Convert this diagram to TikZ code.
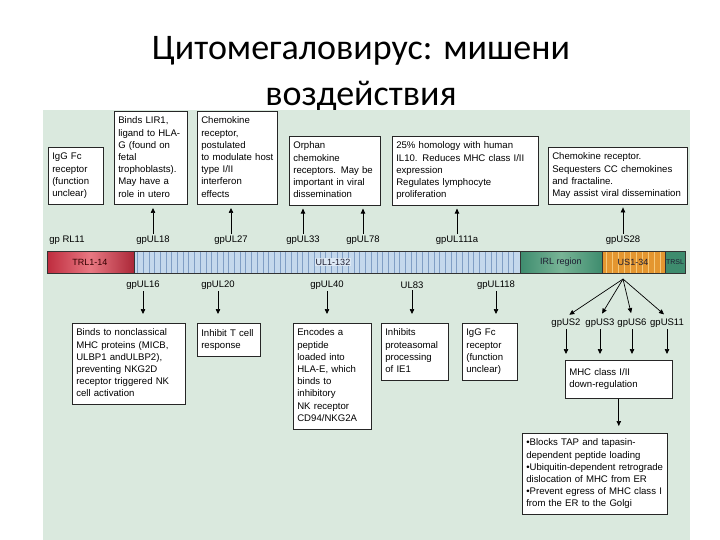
\documentclass[tikz,border=0pt]{standalone}
\usepackage{fontspec}
\setmainfont{Liberation Sans}
\newfontfamily\titlefont{Carlito}
\usetikzlibrary{arrows.meta}
\definecolor{panel}{RGB}{218,233,222}
\definecolor{ulblue}{RGB}{196,216,236}
\definecolor{ulstripe}{RGB}{128,158,196}
\definecolor{trlred}{RGB}{190,44,62}
\definecolor{trlpink}{RGB}{232,120,130}
\definecolor{irlgreen}{RGB}{62,140,110}
\definecolor{irllight}{RGB}{120,180,150}
\definecolor{usorange}{RGB}{228,150,48}
\definecolor{uslight}{RGB}{246,200,120}
\definecolor{bartext}{RGB}{30,30,50}
\newcommand{\boxlines}[1]{\begin{tabular}{@{}l@{}}#1\end{tabular}}
\tikzset{
  infobox/.style={draw=black!85, fill=white, line width=0.6pt, anchor=north west,
    inner xsep=4pt, inner ysep=4pt, align=left, font=\fontsize{9.6}{12.2}\selectfont},
  gene/.style={font=\fontsize{9.5}{11}\selectfont, inner sep=1.5pt},
  barlbl/.style={font=\fontsize{9}{10}\selectfont, text=bartext},
  arr/.style={-{Triangle[length=5pt,width=4.5pt]}, line width=0.7pt, black},
  seg/.style={draw=black!80, line width=0.5pt}
}
\begin{document}
\begin{tikzpicture}[x=1pt,y=-1pt]
\useasboundingbox (0,0) rectangle (720,540);
\fill[white] (0,0) rectangle (720,540);
% title
\node[font=\titlefont\fontsize{36}{46}\selectfont, align=center] (title) at (361,74)
  {Цитомегаловирус: мишени\\воздействия};
% panel
\fill[panel] (43,110) rectangle (690,540);

% top boxes
\node[infobox, text width=47pt, minimum height=55pt] (t1) at (48,147) {\boxlines{IgG Fc\\receptor\\(function\\unclear)}};
\node[infobox, text width=65pt, minimum height=91pt] (t2) at (114,111) {\boxlines{Binds LIR1,\\ligand to HLA-\\G (found on\\fetal\\trophoblasts).\\May have a\\role in utero}};
\node[infobox, text width=72pt, minimum height=91pt] (t3) at (197,111) {\boxlines{Chemokine\\receptor,\\postulated\\to modulate host\\type I/II\\interferon\\effects}};
\node[infobox, text width=83pt, minimum height=67pt] (t4) at (289,136) {\boxlines{Orphan\\chemokine\\receptors. May be\\important in viral\\dissemination}};
\node[infobox, text width=138pt, minimum height=67pt] (t5) at (392,136) {\boxlines{25\% homology with human\\IL10. Reduces MHC class I/II\\expression\\Regulates lymphocyte\\proliferation}};
\node[infobox, text width=131pt, minimum height=56pt] (t6) at (548,147) {\boxlines{Chemokine receptor.\\Sequesters CC chemokines\\and fractaline.\\May assist viral dissemination}};

% top gene labels
\node[gene] (rl11) at (67,240) {gp RL11};
\node[gene] (ul18) at (153,240) {gpUL18};
\node[gene] (ul27) at (231,240) {gpUL27};
\node[gene] (ul33) at (303,240) {gpUL33};
\node[gene] (ul78) at (363,240) {gpUL78};
\node[gene] (ul111) at (457,240) {gpUL111a};
\node[gene] (us28) at (623,240) {gpUS28};

\foreach \l/\b in {ul18/t2, ul27/t3, ul33/t4, ul78/t4, ul111/t5, us28/t6}
  \draw[arr, shorten >=3pt] (\l.north) -- (\l.north |- \b.south);

% genome bar
\shade[left color=trlred, right color=trlred!90!black, middle color=trlpink] (47,251) rectangle (134,273);
\fill[ulblue] (134,251) rectangle (520,273);
\foreach \x in {137.5,143.2,...,518} \draw[ulstripe, line width=0.8pt] (\x,251) -- (\x,273);
\shade[left color=irlgreen, right color=irlgreen, middle color=irllight] (520,251) rectangle (602,273);
\fill[usorange] (602,251) rectangle (665,273);
\foreach \x in {606,612,...,662} \draw[uslight, line width=0.8pt] (\x,251) -- (\x,273);
\fill[irlgreen] (665,251) rectangle (685,273);
\draw[seg] (47,251) rectangle (685,273);
\draw[seg, line width=0.9pt] (134,251) -- (134,273);
\draw[seg] (520,251) -- (520,273) (602,251) -- (602,273) (665,251) -- (665,273);
\node[barlbl, text=black!80!red] (trl) at (90,262) {TRL1-14};
\node[barlbl, fill=ulblue!60!white, inner sep=1pt] (ul) at (333,262) {UL1-132};
\node[barlbl] (irl) at (561,262) {IRL region};
\node[barlbl] (us) at (633,262) {US1-34};
\node[font=\fontsize{7}{8}\selectfont, text=bartext, inner sep=0pt] (trs) at (675,262) {TRSL};

% bottom gene labels
\node[gene] (ul16) at (143,285) {gpUL16};
\node[gene] (ul20) at (218,285) {gpUL20};
\node[gene] (ul40) at (327,285) {gpUL40};
\node[gene] (ul83) at (412,285) {UL83};
\node[gene] (ul118) at (496,285) {gpUL118};

% bottom boxes
\node[infobox, text width=105pt, minimum height=79pt] (b1) at (72,323) {\boxlines{Binds to nonclassical\\MHC proteins (MICB,\\ULBP1 andULBP2),\\preventing NKG2D\\receptor triggered NK\\cell activation}};
\node[infobox, text width=55pt, minimum height=33pt] (b2) at (197,323) {\boxlines{Inhibit T cell\\response}};
\node[infobox, text width=70pt, minimum height=102pt] (b3) at (293,323) {\boxlines{Encodes a\\peptide\\loaded into\\HLA-E, which\\binds to\\inhibitory\\NK receptor\\CD94/NKG2A}};
\node[infobox, text width=59pt, minimum height=55pt] (b4) at (381,323) {\boxlines{Inhibits\\proteasomal\\processing\\of IE1}};
\node[infobox, text width=47pt, minimum height=55pt] (b5) at (462,323) {\boxlines{IgG Fc\\receptor\\(function\\unclear)}};

\foreach \l/\b in {ul16/b1, ul20/b2, ul40/b3, ul83/b4, ul118/b5}
  \draw[arr, shorten >=9pt] (\l.south) -- (\l.south |- \b.north);

% US fan
\coordinate (fan) at (623,279);
\node[gene] (us2) at (566,323) {gpUS2};
\node[gene] (us3) at (600,323) {gpUS3};
\node[gene] (us6) at (632,323) {gpUS6};
\node[gene] (us11) at (667,323) {gpUS11};
\foreach \l in {us2, us3, us6, us11}
  \draw[arr, shorten >=4pt] (fan) -- (\l.north);

\node[infobox, text width=99pt, minimum height=38pt] (mhc) at (565,360) {\boxlines{MHC class I/II\\down-regulation}};
\foreach \l in {us2, us3, us6, us11}
  \draw[arr, shorten >=6pt] (\l.south) -- (\l.south |- mhc.north);

\node[infobox, text width=137pt, minimum height=80pt] (fin) at (522,433) {\boxlines{•Blocks TAP and tapasin-\\dependent peptide loading\\•Ubiquitin-dependent retrograde\\dislocation of MHC from ER\\•Prevent egress of MHC class I\\from the ER to the Golgi}};
\draw[arr, shorten >=7pt] (mhc.south) -- (mhc.south |- fin.north);
\end{tikzpicture}
\end{document}
